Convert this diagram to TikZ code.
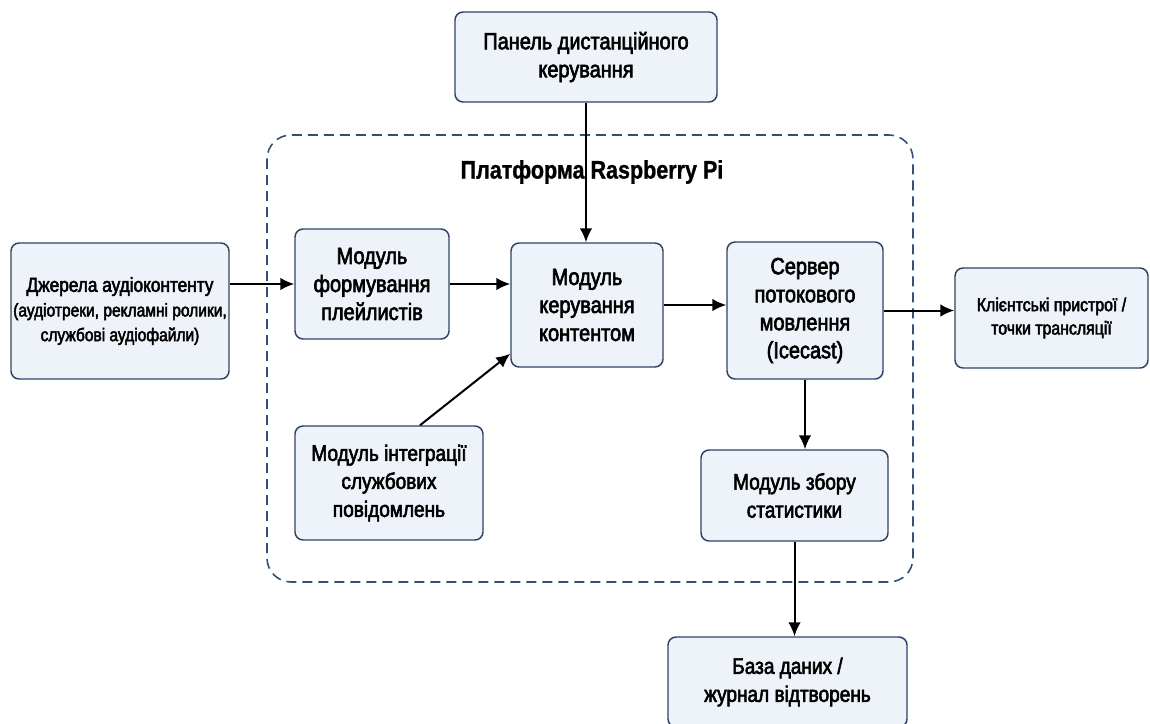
\documentclass[tikz,border=0pt]{standalone}
\usepackage{fontspec}
\setmainfont[FakeStretch=0.85]{Liberation Sans}
\newfontfamily\medfont[FakeStretch=0.85,FakeBold=2.6]{Liberation Sans}
\newfontfamily\titlefont[FakeStretch=0.85,FakeBold=1]{Liberation Sans Bold}
\usetikzlibrary{arrows.meta,calc}
\definecolor{boxfill}{HTML}{EEF2F9}
\definecolor{boxline}{HTML}{2F4266}
\definecolor{dashline}{HTML}{34507A}
\tikzset{
  blk/.style={draw=boxline, fill=boxfill, line width=1.1pt, rounded corners=6pt,
    align=center, inner sep=1pt, font=\medfont\fontsize{17.6}{21}\selectfont},
  midblk/.style={blk, font=\medfont\fontsize{16.8}{21}\selectfont},
  srcblk/.style={blk, font=\medfont\fontsize{13.7}{18.5}\selectfont},
  cliblk/.style={blk, font=\medfont\fontsize{14}{17.5}\selectfont},
  conn/.style={line width=1.5pt, -{Latex[length=10.5pt,width=9.5pt]}},
  platform/.style={draw=dashline, line width=1.2pt, dash pattern=on 7.5pt off 4.5pt, rounded corners=18pt}
}
\begin{document}
\begin{tikzpicture}[x=0.75pt,y=-0.75pt]
\useasboundingbox[fill=white] (0,0) rectangle (1150,724);
% platform container
\draw[platform] (267,135) rectangle (913,582);
\node[font=\titlefont\fontsize{19}{22}\selectfont] (title) at (592,172) {Платформа Raspberry Pi};
% blocks
\node[blk, minimum width=262*0.75pt, minimum height=90*0.75pt] (panel) at (586,57) {Панель дистанційного\\керування};
\node[srcblk, minimum width=218*0.75pt, minimum height=136*0.75pt] (src) at (120,311) {{\fontsize{15.2}{18.5}\selectfont Джерела аудіоконтенту}\\(аудіотреки, рекламні ролики,\\службові аудіофайли)};
\node[blk, minimum width=154*0.75pt, minimum height=110*0.75pt] (play) at (372,284) {Модуль\\формування\\плейлистів};
\node[blk, minimum width=152*0.75pt, minimum height=124*0.75pt] (content) at (587,305) {Модуль\\керування\\контентом};
\node[blk, minimum width=156*0.75pt, minimum height=137*0.75pt] (server) at (805,310.5) {Сервер\\потокового\\мовлення\\(Icecast)};
\node[cliblk, minimum width=193*0.75pt, minimum height=100*0.75pt] (client) at (1051.5,318) {Клієнтські пристрої /\\точки трансляції};
\node[midblk, minimum width=188*0.75pt, minimum height=114*0.75pt] (integ) at (389,483) {Модуль інтеграції\\службових\\повідомлень};
\node[midblk, minimum width=187*0.75pt, minimum height=91*0.75pt] (stats) at (794.5,495.5) {Модуль збору\\статистики};
\node[midblk, minimum width=239*0.75pt, minimum height=90*0.75pt] (db) at (787.5,682) {База даних /\\журнал відтворень};
% connectors
\draw[conn] (panel.south) -- (panel.south |- content.north);
\draw[conn] (play.west -| src.east) -- (play.west);
\draw[conn] (play.east) -- (play.east -| content.west);
\draw[conn] (content.east) -- (content.east -| server.west);
\draw[conn] (server.east) -- (server.east -| client.west);
\draw[conn] ([xshift=23.25pt]integ.north) -- ([yshift=10.5pt]content.south west);
\draw[conn] (server.south) -- (server.south |- stats.north);
\draw[conn] (stats.south) -- (stats.south |- db.north);
\end{tikzpicture}
\end{document}
